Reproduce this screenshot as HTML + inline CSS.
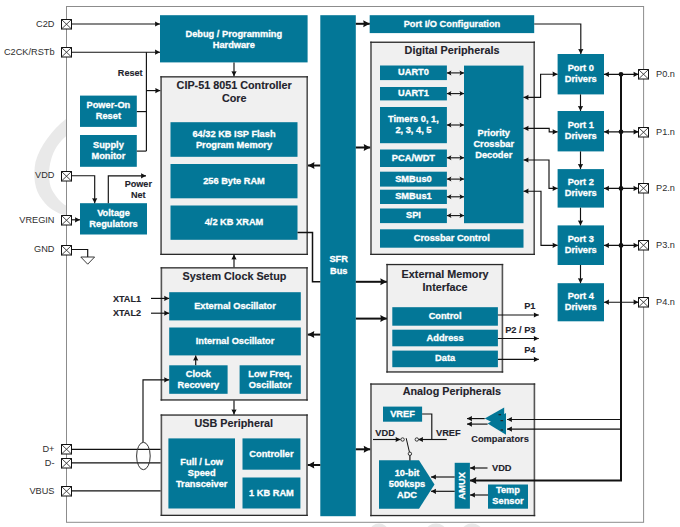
<!DOCTYPE html>
<html><head><meta charset="utf-8"><style>
html,body{margin:0;padding:0;background:#fff;width:680px;height:527px;overflow:hidden}
svg{display:block}
text{font-family:"Liberation Sans", sans-serif}
</style></head><body>
<svg width="680" height="527" viewBox="0 0 680 527">
<rect width="680" height="527" fill="#fff"/>
<path d="M66,119 C52,130 40,146 35.5,162 C33,175 34,190 42.5,200 C48,208 56,213 66,215.5 L66,205.6 C61,203 56,197 52,190 C48,182 48.5,168 51,160 C53.5,150 59,142 66,136.2 Z" fill="#e9e9e9"/>
<ellipse cx="379" cy="531" rx="9" ry="7.5" fill="#e8e8e8"/>
<ellipse cx="436" cy="531" rx="10" ry="7.5" fill="#e8e8e8"/>
<ellipse cx="472" cy="531" rx="10" ry="7.5" fill="#e8e8e8"/>
<rect x="66.5" y="6.5" width="577.1" height="515.8" fill="none" stroke="#8c8c8c" stroke-width="1"/>
<rect x="160.3" y="76.2" width="147.7" height="178.8" fill="#f0f0f0"/>
<rect x="160.3" y="76.2" width="1.6" height="178.8" fill="#555"/>
<rect x="306.4" y="76.2" width="1.6" height="178.8" fill="#555"/>
<rect x="160.3" y="76.2" width="147.7" height="1.3" fill="#2a2a2a"/>
<rect x="160.3" y="253.7" width="147.7" height="1.3" fill="#2a2a2a"/>
<rect x="370.2" y="41.6" width="164.8" height="213.4" fill="#f0f0f0"/>
<rect x="370.2" y="41.6" width="1.6" height="213.4" fill="#555"/>
<rect x="533.4" y="41.6" width="1.6" height="213.4" fill="#555"/>
<rect x="370.2" y="41.6" width="164.8" height="1.3" fill="#2a2a2a"/>
<rect x="370.2" y="253.7" width="164.8" height="1.3" fill="#2a2a2a"/>
<rect x="160.6" y="267.2" width="147.2" height="133.4" fill="#f0f0f0"/>
<rect x="160.6" y="267.2" width="1.6" height="133.4" fill="#555"/>
<rect x="306.2" y="267.2" width="1.6" height="133.4" fill="#555"/>
<rect x="160.6" y="267.2" width="147.2" height="1.3" fill="#2a2a2a"/>
<rect x="160.6" y="399.3" width="147.2" height="1.3" fill="#2a2a2a"/>
<rect x="386.3" y="263.9" width="116.9" height="108.7" fill="#f0f0f0"/>
<rect x="386.3" y="263.9" width="1.6" height="108.7" fill="#555"/>
<rect x="501.6" y="263.9" width="1.6" height="108.7" fill="#555"/>
<rect x="386.3" y="263.9" width="116.9" height="1.3" fill="#2a2a2a"/>
<rect x="386.3" y="371.3" width="116.9" height="1.3" fill="#2a2a2a"/>
<rect x="160.6" y="414.4" width="147.2" height="101.6" fill="#f0f0f0"/>
<rect x="160.6" y="414.4" width="1.6" height="101.6" fill="#555"/>
<rect x="306.2" y="414.4" width="1.6" height="101.6" fill="#555"/>
<rect x="160.6" y="414.4" width="147.2" height="1.3" fill="#2a2a2a"/>
<rect x="160.6" y="514.7" width="147.2" height="1.3" fill="#2a2a2a"/>
<rect x="370.2" y="383.4" width="165" height="132.8" fill="#f0f0f0"/>
<rect x="370.2" y="383.4" width="1.6" height="132.8" fill="#555"/>
<rect x="533.6" y="383.4" width="1.6" height="132.8" fill="#555"/>
<rect x="370.2" y="383.4" width="165" height="1.3" fill="#2a2a2a"/>
<rect x="370.2" y="514.9" width="165" height="1.3" fill="#2a2a2a"/>
<text x="234.2" y="88.9" font-size="10.8" font-weight="bold" fill="#23232c" text-anchor="middle" stroke="#23232c" stroke-width="0.12" >CIP-51 8051 Controller</text>
<text x="234.2" y="101.9" font-size="10.8" font-weight="bold" fill="#23232c" text-anchor="middle" stroke="#23232c" stroke-width="0.12" >Core</text>
<text x="452" y="53.7" font-size="10.8" font-weight="bold" fill="#23232c" text-anchor="middle" stroke="#23232c" stroke-width="0.12" >Digital Peripherals</text>
<text x="234.5" y="280.2" font-size="10.8" font-weight="bold" fill="#23232c" text-anchor="middle" stroke="#23232c" stroke-width="0.12" >System Clock Setup</text>
<text x="445.1" y="278" font-size="10.8" font-weight="bold" fill="#23232c" text-anchor="middle" stroke="#23232c" stroke-width="0.12" >External Memory</text>
<text x="445.1" y="290.5" font-size="10.8" font-weight="bold" fill="#23232c" text-anchor="middle" stroke="#23232c" stroke-width="0.12" >Interface</text>
<text x="233.8" y="426.5" font-size="10.8" font-weight="bold" fill="#23232c" text-anchor="middle" stroke="#23232c" stroke-width="0.12" >USB Peripheral</text>
<text x="451.9" y="395.4" font-size="10.8" font-weight="bold" fill="#23232c" text-anchor="middle" stroke="#23232c" stroke-width="0.12" >Analog Peripherals</text>
<rect x="160" y="15.2" width="147.6" height="47.2" fill="#037797"/>
<text x="233.8" y="36.78" font-size="9.25" font-weight="bold" fill="#fff" text-anchor="middle" stroke="#fff" stroke-width="0.3" >Debug / Programming</text>
<text x="233.8" y="47.78" font-size="9.25" font-weight="bold" fill="#fff" text-anchor="middle" stroke="#fff" stroke-width="0.3" >Hardware</text>
<rect x="320.3" y="15.2" width="35.5" height="501" fill="#037797"/>
<text x="338.7" y="262" font-size="9.25" font-weight="bold" fill="#fff" text-anchor="middle" stroke="#fff" stroke-width="0.3" >SFR</text>
<text x="338.7" y="273.5" font-size="9.25" font-weight="bold" fill="#fff" text-anchor="middle" stroke="#fff" stroke-width="0.3" >Bus</text>
<rect x="369.7" y="15.2" width="164.5" height="17.9" fill="#037797"/>
<text x="451.95" y="26.73" font-size="9.25" font-weight="bold" fill="#fff" text-anchor="middle" stroke="#fff" stroke-width="0.3" >Port I/O Configuration</text>
<rect x="80" y="95.6" width="56.8" height="31.3" fill="#037797"/>
<text x="108.4" y="108.33" font-size="9.25" font-weight="bold" fill="#fff" text-anchor="middle" stroke="#fff" stroke-width="0.3" >Power-On</text>
<text x="108.4" y="119.33" font-size="9.25" font-weight="bold" fill="#fff" text-anchor="middle" stroke="#fff" stroke-width="0.3" >Reset</text>
<rect x="80" y="135" width="56.8" height="31.8" fill="#037797"/>
<text x="108.4" y="147.98" font-size="9.25" font-weight="bold" fill="#fff" text-anchor="middle" stroke="#fff" stroke-width="0.3" >Supply</text>
<text x="108.4" y="158.98" font-size="9.25" font-weight="bold" fill="#fff" text-anchor="middle" stroke="#fff" stroke-width="0.3" >Monitor</text>
<rect x="80" y="203.2" width="67" height="31.3" fill="#037797"/>
<text x="113.5" y="215.93" font-size="9.25" font-weight="bold" fill="#fff" text-anchor="middle" stroke="#fff" stroke-width="0.3" >Voltage</text>
<text x="113.5" y="226.93" font-size="9.25" font-weight="bold" fill="#fff" text-anchor="middle" stroke="#fff" stroke-width="0.3" >Regulators</text>
<rect x="170.5" y="122.2" width="127" height="34.6" fill="#037797"/>
<text x="234" y="136.58" font-size="9.25" font-weight="bold" fill="#fff" text-anchor="middle" stroke="#fff" stroke-width="0.3" >64/32 KB ISP Flash</text>
<text x="234" y="147.58" font-size="9.25" font-weight="bold" fill="#fff" text-anchor="middle" stroke="#fff" stroke-width="0.3" >Program Memory</text>
<rect x="170.5" y="164" width="127" height="34.3" fill="#037797"/>
<text x="234" y="183.73" font-size="9.25" font-weight="bold" fill="#fff" text-anchor="middle" stroke="#fff" stroke-width="0.3" >256 Byte RAM</text>
<rect x="170.5" y="205.5" width="127" height="34.3" fill="#037797"/>
<text x="234" y="225.23" font-size="9.25" font-weight="bold" fill="#fff" text-anchor="middle" stroke="#fff" stroke-width="0.3" >4/2 KB XRAM</text>
<rect x="380" y="65.5" width="66.9" height="14.6" fill="#037797"/>
<text x="413.45" y="75.38" font-size="9.25" font-weight="bold" fill="#fff" text-anchor="middle" stroke="#fff" stroke-width="0.3" >UART0</text>
<rect x="380" y="87" width="66.9" height="13.4" fill="#037797"/>
<text x="413.45" y="96.28" font-size="9.25" font-weight="bold" fill="#fff" text-anchor="middle" stroke="#fff" stroke-width="0.3" >UART1</text>
<rect x="380" y="107" width="66.9" height="36.2" fill="#037797"/>
<text x="413.45" y="122.18" font-size="9.25" font-weight="bold" fill="#fff" text-anchor="middle" stroke="#fff" stroke-width="0.3" >Timers 0, 1,</text>
<text x="413.45" y="133.18" font-size="9.25" font-weight="bold" fill="#fff" text-anchor="middle" stroke="#fff" stroke-width="0.3" >2, 3, 4, 5</text>
<rect x="380" y="149.5" width="66.9" height="17.5" fill="#037797"/>
<text x="413.45" y="160.83" font-size="9.25" font-weight="bold" fill="#fff" text-anchor="middle" stroke="#fff" stroke-width="0.3" >PCA/WDT</text>
<rect x="380" y="171.7" width="66.9" height="14.9" fill="#037797"/>
<text x="413.45" y="181.73" font-size="9.25" font-weight="bold" fill="#fff" text-anchor="middle" stroke="#fff" stroke-width="0.3" >SMBus0</text>
<rect x="380" y="189.7" width="66.9" height="14.3" fill="#037797"/>
<text x="413.45" y="199.43" font-size="9.25" font-weight="bold" fill="#fff" text-anchor="middle" stroke="#fff" stroke-width="0.3" >SMBus1</text>
<rect x="380" y="208.5" width="66.9" height="14.6" fill="#037797"/>
<text x="413.45" y="218.38" font-size="9.25" font-weight="bold" fill="#fff" text-anchor="middle" stroke="#fff" stroke-width="0.3" >SPI</text>
<rect x="464" y="65.6" width="59.5" height="157.6" fill="#037797"/>
<text x="493.75" y="135.68" font-size="9.25" font-weight="bold" fill="#fff" text-anchor="middle" stroke="#fff" stroke-width="0.3" >Priority</text>
<text x="493.75" y="146.98" font-size="9.25" font-weight="bold" fill="#fff" text-anchor="middle" stroke="#fff" stroke-width="0.3" >Crossbar</text>
<text x="493.75" y="158.28" font-size="9.25" font-weight="bold" fill="#fff" text-anchor="middle" stroke="#fff" stroke-width="0.3" >Decoder</text>
<rect x="380" y="229.3" width="143.5" height="18.4" fill="#037797"/>
<text x="451.75" y="241.08" font-size="9.25" font-weight="bold" fill="#fff" text-anchor="middle" stroke="#fff" stroke-width="0.3" >Crossbar Control</text>
<rect x="557.6" y="54" width="46.4" height="40.4" fill="#037797"/>
<text x="580.8" y="71.28" font-size="9.25" font-weight="bold" fill="#fff" text-anchor="middle" stroke="#fff" stroke-width="0.3" >Port 0</text>
<text x="580.8" y="82.28" font-size="9.25" font-weight="bold" fill="#fff" text-anchor="middle" stroke="#fff" stroke-width="0.3" >Drivers</text>
<rect x="557.6" y="111" width="46.4" height="40.4" fill="#037797"/>
<text x="580.8" y="128.28" font-size="9.25" font-weight="bold" fill="#fff" text-anchor="middle" stroke="#fff" stroke-width="0.3" >Port 1</text>
<text x="580.8" y="139.28" font-size="9.25" font-weight="bold" fill="#fff" text-anchor="middle" stroke="#fff" stroke-width="0.3" >Drivers</text>
<rect x="557.6" y="169.1" width="46.4" height="38.5" fill="#037797"/>
<text x="580.8" y="185.43" font-size="9.25" font-weight="bold" fill="#fff" text-anchor="middle" stroke="#fff" stroke-width="0.3" >Port 2</text>
<text x="580.8" y="196.43" font-size="9.25" font-weight="bold" fill="#fff" text-anchor="middle" stroke="#fff" stroke-width="0.3" >Drivers</text>
<rect x="557.6" y="225.4" width="46.4" height="39.6" fill="#037797"/>
<text x="580.8" y="242.28" font-size="9.25" font-weight="bold" fill="#fff" text-anchor="middle" stroke="#fff" stroke-width="0.3" >Port 3</text>
<text x="580.8" y="253.28" font-size="9.25" font-weight="bold" fill="#fff" text-anchor="middle" stroke="#fff" stroke-width="0.3" >Drivers</text>
<rect x="557.6" y="283.2" width="46.4" height="38.1" fill="#037797"/>
<text x="580.8" y="299.33" font-size="9.25" font-weight="bold" fill="#fff" text-anchor="middle" stroke="#fff" stroke-width="0.3" >Port 4</text>
<text x="580.8" y="310.33" font-size="9.25" font-weight="bold" fill="#fff" text-anchor="middle" stroke="#fff" stroke-width="0.3" >Drivers</text>
<rect x="169.2" y="292.2" width="131.6" height="28.2" fill="#037797"/>
<text x="235" y="308.88" font-size="9.25" font-weight="bold" fill="#fff" text-anchor="middle" stroke="#fff" stroke-width="0.3" >External Oscillator</text>
<rect x="169.2" y="327.5" width="131.6" height="27.9" fill="#037797"/>
<text x="235" y="344.03" font-size="9.25" font-weight="bold" fill="#fff" text-anchor="middle" stroke="#fff" stroke-width="0.3" >Internal Oscillator</text>
<rect x="169.2" y="365.3" width="58.4" height="28.5" fill="#037797"/>
<text x="198.4" y="376.63" font-size="9.25" font-weight="bold" fill="#fff" text-anchor="middle" stroke="#fff" stroke-width="0.3" >Clock</text>
<text x="198.4" y="387.63" font-size="9.25" font-weight="bold" fill="#fff" text-anchor="middle" stroke="#fff" stroke-width="0.3" >Recovery</text>
<rect x="239.6" y="365.3" width="61.2" height="28.5" fill="#037797"/>
<text x="270.2" y="376.63" font-size="9.25" font-weight="bold" fill="#fff" text-anchor="middle" stroke="#fff" stroke-width="0.3" >Low Freq.</text>
<text x="270.2" y="387.63" font-size="9.25" font-weight="bold" fill="#fff" text-anchor="middle" stroke="#fff" stroke-width="0.3" >Oscillator</text>
<rect x="392.3" y="307.2" width="105.6" height="18.5" fill="#037797"/>
<text x="445.1" y="319.03" font-size="9.25" font-weight="bold" fill="#fff" text-anchor="middle" stroke="#fff" stroke-width="0.3" >Control</text>
<rect x="392.3" y="329.7" width="105.6" height="16.6" fill="#037797"/>
<text x="445.1" y="340.58" font-size="9.25" font-weight="bold" fill="#fff" text-anchor="middle" stroke="#fff" stroke-width="0.3" >Address</text>
<rect x="392.3" y="350.6" width="105.6" height="16.6" fill="#037797"/>
<text x="445.1" y="361.48" font-size="9.25" font-weight="bold" fill="#fff" text-anchor="middle" stroke="#fff" stroke-width="0.3" >Data</text>
<rect x="168.4" y="438.4" width="66.6" height="70.1" fill="#037797"/>
<text x="201.7" y="465.13" font-size="9.25" font-weight="bold" fill="#fff" text-anchor="middle" stroke="#fff" stroke-width="0.3" >Full / Low</text>
<text x="201.7" y="476.03" font-size="9.25" font-weight="bold" fill="#fff" text-anchor="middle" stroke="#fff" stroke-width="0.3" >Speed</text>
<text x="201.7" y="486.93" font-size="9.25" font-weight="bold" fill="#fff" text-anchor="middle" stroke="#fff" stroke-width="0.3" >Transceiver</text>
<rect x="242.5" y="438.4" width="57.9" height="31.3" fill="#037797"/>
<text x="271.45" y="456.63" font-size="9.25" font-weight="bold" fill="#fff" text-anchor="middle" stroke="#fff" stroke-width="0.3" >Controller</text>
<rect x="242.5" y="477.5" width="57.9" height="31" fill="#037797"/>
<text x="271.45" y="495.58" font-size="9.25" font-weight="bold" fill="#fff" text-anchor="middle" stroke="#fff" stroke-width="0.3" >1 KB RAM</text>
<rect x="383" y="406.6" width="39.1" height="15.1" fill="#037797"/>
<text x="402.55" y="416.73" font-size="9.25" font-weight="bold" fill="#fff" text-anchor="middle" stroke="#fff" stroke-width="0.3" >VREF</text>
<rect x="454.7" y="462.8" width="15.2" height="45.9" fill="#037797"/>
<text x="0" y="0" font-size="9.25" font-weight="bold" fill="#fff" text-anchor="middle" stroke="#fff" stroke-width="0.3" transform="translate(464.6,485.75) rotate(-90)">AMUX</text>
<rect x="488" y="484.5" width="40" height="24.2" fill="#037797"/>
<text x="508" y="492.88" font-size="9.25" font-weight="bold" fill="#fff" text-anchor="middle" stroke="#fff" stroke-width="0.3" >Temp</text>
<text x="508" y="503.88" font-size="9.25" font-weight="bold" fill="#fff" text-anchor="middle" stroke="#fff" stroke-width="0.3" >Sensor</text>
<polygon points="379,460.3 419,460.3 434.5,484.4 419,508.7 379,508.7" fill="#037797"/>
<text x="407" y="475.78" font-size="9.25" font-weight="bold" fill="#fff" text-anchor="middle" stroke="#fff" stroke-width="0.3" >10-bit</text>
<text x="407" y="487.08" font-size="9.25" font-weight="bold" fill="#fff" text-anchor="middle" stroke="#fff" stroke-width="0.3" >500ksps</text>
<text x="407" y="498.38" font-size="9.25" font-weight="bold" fill="#fff" text-anchor="middle" stroke="#fff" stroke-width="0.3" >ADC</text>
<polygon points="504.2,407.6 484.7,418.4 504.2,428.5" fill="#037797"/>
<polygon points="506,413 487.6,423.6 506,434.7" fill="#037797"/>
<rect x="498.5" y="414.1" width="2.6" height="1.2" fill="#222"/>
<rect x="500.5" y="420" width="2.6" height="1.2" fill="#222"/>
<rect x="500.6" y="429.4" width="2.4" height="1.2" fill="#222"/>
<text x="500" y="441.7" font-size="9.25" font-weight="bold" fill="#23232c" text-anchor="middle" stroke="#23232c" stroke-width="0.12" >Comparators</text>
<text x="54.5" y="26.7" font-size="9.2" font-weight="normal" fill="#2e2e2e" text-anchor="end" >C2D</text>
<rect x="61.5" y="19.5" width="10" height="9.5" fill="#fff" stroke="#111" stroke-width="1"/>
<path d="M61.5,19.5L71.5,29M71.5,19.5L61.5,29" stroke="#333" stroke-width="0.9"/>
<text x="54.5" y="54.9" font-size="9.2" font-weight="normal" fill="#2e2e2e" text-anchor="end" >C2CK/RSTb</text>
<rect x="61.5" y="47.5" width="10" height="9.5" fill="#fff" stroke="#111" stroke-width="1"/>
<path d="M61.5,47.5L71.5,57M71.5,47.5L61.5,57" stroke="#333" stroke-width="0.9"/>
<text x="54.5" y="178.4" font-size="9.2" font-weight="normal" fill="#2e2e2e" text-anchor="end" >VDD</text>
<rect x="61.5" y="171.5" width="10" height="9.5" fill="#fff" stroke="#111" stroke-width="1"/>
<path d="M61.5,171.5L71.5,181M71.5,171.5L61.5,181" stroke="#333" stroke-width="0.9"/>
<text x="54.5" y="222.5" font-size="9.2" font-weight="normal" fill="#2e2e2e" text-anchor="end" >VREGIN</text>
<rect x="61.5" y="215.5" width="10" height="9.5" fill="#fff" stroke="#111" stroke-width="1"/>
<path d="M61.5,215.5L71.5,225M71.5,215.5L61.5,225" stroke="#333" stroke-width="0.9"/>
<text x="54.5" y="252.3" font-size="9.2" font-weight="normal" fill="#2e2e2e" text-anchor="end" >GND</text>
<rect x="61.5" y="245.5" width="10" height="9.5" fill="#fff" stroke="#111" stroke-width="1"/>
<path d="M61.5,245.5L71.5,255M71.5,245.5L61.5,255" stroke="#333" stroke-width="0.9"/>
<text x="54.5" y="452" font-size="9.2" font-weight="normal" fill="#2e2e2e" text-anchor="end" >D+</text>
<rect x="61.5" y="444.5" width="10" height="9.5" fill="#fff" stroke="#111" stroke-width="1"/>
<path d="M61.5,444.5L71.5,454M71.5,444.5L61.5,454" stroke="#333" stroke-width="0.9"/>
<text x="54.5" y="465.7" font-size="9.2" font-weight="normal" fill="#2e2e2e" text-anchor="end" >D-</text>
<rect x="61.5" y="458.5" width="10" height="9.5" fill="#fff" stroke="#111" stroke-width="1"/>
<path d="M61.5,458.5L71.5,468M71.5,458.5L61.5,468" stroke="#333" stroke-width="0.9"/>
<text x="54.5" y="493.5" font-size="9.2" font-weight="normal" fill="#2e2e2e" text-anchor="end" >VBUS</text>
<rect x="61.5" y="486.5" width="10" height="9.5" fill="#fff" stroke="#111" stroke-width="1"/>
<path d="M61.5,486.5L71.5,496M71.5,486.5L61.5,496" stroke="#333" stroke-width="0.9"/>
<text x="656" y="77" font-size="9.2" font-weight="normal" fill="#2e2e2e" text-anchor="start" >P0.n</text>
<rect x="638.5" y="69.5" width="10" height="9.5" fill="#fff" stroke="#111" stroke-width="1"/>
<path d="M638.5,69.5L648.5,79M648.5,69.5L638.5,79" stroke="#333" stroke-width="0.9"/>
<text x="656" y="134.5" font-size="9.2" font-weight="normal" fill="#2e2e2e" text-anchor="start" >P1.n</text>
<rect x="638.5" y="127.5" width="10" height="9.5" fill="#fff" stroke="#111" stroke-width="1"/>
<path d="M638.5,127.5L648.5,137M648.5,127.5L638.5,137" stroke="#333" stroke-width="0.9"/>
<text x="656" y="191.1" font-size="9.2" font-weight="normal" fill="#2e2e2e" text-anchor="start" >P2.n</text>
<rect x="638.5" y="183.5" width="10" height="9.5" fill="#fff" stroke="#111" stroke-width="1"/>
<path d="M638.5,183.5L648.5,193M648.5,183.5L638.5,193" stroke="#333" stroke-width="0.9"/>
<text x="656" y="248.1" font-size="9.2" font-weight="normal" fill="#2e2e2e" text-anchor="start" >P3.n</text>
<rect x="638.5" y="240.5" width="10" height="9.5" fill="#fff" stroke="#111" stroke-width="1"/>
<path d="M638.5,240.5L648.5,250M648.5,240.5L638.5,250" stroke="#333" stroke-width="0.9"/>
<text x="656" y="304.9" font-size="9.2" font-weight="normal" fill="#2e2e2e" text-anchor="start" >P4.n</text>
<rect x="638.5" y="297.5" width="10" height="9.5" fill="#fff" stroke="#111" stroke-width="1"/>
<path d="M638.5,297.5L648.5,307M648.5,297.5L638.5,307" stroke="#333" stroke-width="0.9"/>
<text x="130.25" y="75.5" font-size="9.1" font-weight="bold" fill="#23232c" text-anchor="middle" stroke="#23232c" stroke-width="0.12" >Reset</text>
<text x="138.3" y="186.6" font-size="9.1" font-weight="bold" fill="#23232c" text-anchor="middle" stroke="#23232c" stroke-width="0.12" >Power</text>
<text x="138.3" y="197.8" font-size="9.1" font-weight="bold" fill="#23232c" text-anchor="middle" stroke="#23232c" stroke-width="0.12" >Net</text>
<text x="141" y="302.3" font-size="9.1" font-weight="bold" fill="#23232c" text-anchor="end" stroke="#23232c" stroke-width="0.12" >XTAL1</text>
<text x="141" y="316.3" font-size="9.1" font-weight="bold" fill="#23232c" text-anchor="end" stroke="#23232c" stroke-width="0.12" >XTAL2</text>
<text x="535.5" y="309.3" font-size="9.25" font-weight="bold" fill="#23232c" text-anchor="end" stroke="#23232c" stroke-width="0.12" >P1</text>
<text x="535.5" y="332.9" font-size="9.25" font-weight="bold" fill="#23232c" text-anchor="end" stroke="#23232c" stroke-width="0.12" >P2 / P3</text>
<text x="535.5" y="353" font-size="9.25" font-weight="bold" fill="#23232c" text-anchor="end" stroke="#23232c" stroke-width="0.12" >P4</text>
<text x="375.3" y="436" font-size="9.25" font-weight="bold" fill="#23232c" text-anchor="start" stroke="#23232c" stroke-width="0.12" >VDD</text>
<text x="436" y="436" font-size="9.25" font-weight="bold" fill="#23232c" text-anchor="start" stroke="#23232c" stroke-width="0.12" >VREF</text>
<text x="492" y="470.9" font-size="9.25" font-weight="bold" fill="#23232c" text-anchor="start" stroke="#23232c" stroke-width="0.12" >VDD</text>
<polyline points="72,24 160,24" fill="none" stroke="#111" stroke-width="1.15" stroke-linejoin="miter"/>
<polygon points="160,24 155,26.6 155.25,24 155,21.4" fill="#111"/>
<polyline points="72,52.2 160,52.2" fill="none" stroke="#111" stroke-width="1.15" stroke-linejoin="miter"/>
<polygon points="160,52.2 155,54.8 155.25,52.2 155,49.6" fill="#111"/>
<polyline points="146.4,52.2 146.4,151.1" fill="none" stroke="#111" stroke-width="1.15" stroke-linejoin="miter"/>
<polyline points="146.4,90.6 160.3,90.6" fill="none" stroke="#111" stroke-width="1.15" stroke-linejoin="miter"/>
<polygon points="160.3,90.6 155.3,93.2 155.55,90.6 155.3,88" fill="#111"/>
<polyline points="136.8,111.6 146.4,111.6" fill="none" stroke="#111" stroke-width="1.15" stroke-linejoin="miter"/>
<polyline points="136.8,151.1 146.4,151.1" fill="none" stroke="#111" stroke-width="1.15" stroke-linejoin="miter"/>
<polyline points="234,62.4 234,76.2" fill="none" stroke="#111" stroke-width="1.15" stroke-linejoin="miter"/>
<polygon points="234,76.2 231.4,71.2 234,71.45 236.6,71.2" fill="#111"/>
<polyline points="72,175.7 94.7,175.7 94.7,203.2" fill="none" stroke="#111" stroke-width="1.15" stroke-linejoin="miter"/>
<polygon points="94.7,203.2 92.1,198.2 94.7,198.45 97.3,198.2" fill="#111"/>
<polyline points="108.3,203.2 108.3,175.8 146,175.8" fill="none" stroke="#111" stroke-width="1.15" stroke-linejoin="miter"/>
<polygon points="146,175.8 141,178.4 141.25,175.8 141,173.2" fill="#111"/>
<polyline points="72,219.8 80,219.8" fill="none" stroke="#111" stroke-width="1.15" stroke-linejoin="miter"/>
<polygon points="80,219.8 75,222.4 75.25,219.8 75,217.2" fill="#111"/>
<polyline points="72,249.5 87.7,249.5 87.7,257" fill="none" stroke="#111" stroke-width="1.15" stroke-linejoin="miter"/>
<polygon points="80.8,257 94.6,257 87.7,264.2" fill="#fff" stroke="#222" stroke-width="0.9"/>
<polyline points="320.3,165.5 308,165.5" fill="none" stroke="#111" stroke-width="2.0" stroke-linejoin="miter"/>
<polygon points="308,165.5 314.5,162 313.85,165.5 314.5,169" fill="#111"/>
<polyline points="297.5,232.6 312.5,232.6 312.5,281.8 320.3,281.8" fill="none" stroke="#111" stroke-width="1.5" stroke-linejoin="miter"/>
<polyline points="355.8,281.8 386.8,281.8" fill="none" stroke="#111" stroke-width="2.0" stroke-linejoin="miter"/>
<polygon points="386.8,281.8 380.3,285.3 380.95,281.8 380.3,278.3" fill="#111"/>
<polyline points="355.8,318.6 386.8,318.6" fill="none" stroke="#111" stroke-width="2.0" stroke-linejoin="miter"/>
<polygon points="386.8,318.6 380.3,322.1 380.95,318.6 380.3,315.1" fill="#111"/>
<polyline points="320.3,334.6 307.8,334.6" fill="none" stroke="#111" stroke-width="2.0" stroke-linejoin="miter"/>
<polygon points="307.8,334.6 314.3,331.1 313.65,334.6 314.3,338.1" fill="#111"/>
<polyline points="234,267.2 234,254.6" fill="none" stroke="#111" stroke-width="1.15" stroke-linejoin="miter"/>
<polygon points="234,254.6 236.6,259.6 234,259.35 231.4,259.6" fill="#111"/>
<polyline points="234,400.6 234,414.4" fill="none" stroke="#111" stroke-width="1.15" stroke-linejoin="miter"/>
<polygon points="234,414.4 231.4,409.4 234,409.65 236.6,409.4" fill="#111"/>
<polyline points="151,298.4 169.2,298.4" fill="none" stroke="#111" stroke-width="1.15" stroke-linejoin="miter"/>
<polygon points="169.2,298.4 164.2,301 164.45,298.4 164.2,295.8" fill="#111"/>
<polyline points="151,313.2 169.2,313.2" fill="none" stroke="#111" stroke-width="1.15" stroke-linejoin="miter"/>
<polygon points="169.2,313.2 164.2,315.8 164.45,313.2 164.2,310.6" fill="#111"/>
<polyline points="195.7,365.3 195.7,355.4" fill="none" stroke="#111" stroke-width="1.15" stroke-linejoin="miter"/>
<polygon points="195.7,355.4 198.3,360.4 195.7,360.15 193.1,360.4" fill="#111"/>
<polyline points="143,442.2 143,379.8 169.2,379.8" fill="none" stroke="#111" stroke-width="1.15" stroke-linejoin="miter"/>
<polygon points="169.2,379.8 164.2,382.4 164.45,379.8 164.2,377.2" fill="#111"/>
<polyline points="72,449.4 160.6,449.4" fill="none" stroke="#111" stroke-width="1.15" stroke-linejoin="miter"/>
<polyline points="72,462.9 160.6,462.9" fill="none" stroke="#111" stroke-width="1.15" stroke-linejoin="miter"/>
<polyline points="72,490.8 160.6,490.8" fill="none" stroke="#111" stroke-width="1.15" stroke-linejoin="miter"/>
<ellipse cx="143.4" cy="456" rx="6.8" ry="13.7" fill="none" stroke="#333" stroke-width="1"/>
<polyline points="320.3,465 307.8,465" fill="none" stroke="#111" stroke-width="2.0" stroke-linejoin="miter"/>
<polygon points="307.8,465 314.3,461.5 313.65,465 314.3,468.5" fill="#111"/>
<polyline points="355.8,147.5 370.2,147.5" fill="none" stroke="#111" stroke-width="2.0" stroke-linejoin="miter"/>
<polygon points="370.2,147.5 363.7,151 364.35,147.5 363.7,144" fill="#111"/>
<polyline points="355.8,23.8 369.7,23.8" fill="none" stroke="#111" stroke-width="2.0" stroke-linejoin="miter"/>
<polygon points="369.7,23.8 363.2,27.3 363.85,23.8 363.2,20.3" fill="#111"/>
<polyline points="355.8,449.3 370.2,449.3" fill="none" stroke="#111" stroke-width="2.0" stroke-linejoin="miter"/>
<polygon points="370.2,449.3 363.7,452.8 364.35,449.3 363.7,445.8" fill="#111"/>
<polyline points="534.2,24 580.8,24 580.8,54" fill="none" stroke="#111" stroke-width="1.15" stroke-linejoin="miter"/>
<polygon points="580.8,54 578.2,49 580.8,49.25 583.4,49" fill="#111"/>
<polyline points="580.5,94.4 580.5,111" fill="none" stroke="#111" stroke-width="1.15" stroke-linejoin="miter"/>
<polygon points="580.5,111 577.9,106 580.5,106.25 583.1,106" fill="#111"/>
<polyline points="580.5,151.4 580.5,169.1" fill="none" stroke="#111" stroke-width="1.15" stroke-linejoin="miter"/>
<polygon points="580.5,169.1 577.9,164.1 580.5,164.35 583.1,164.1" fill="#111"/>
<polyline points="580.5,207.6 580.5,225.4" fill="none" stroke="#111" stroke-width="1.15" stroke-linejoin="miter"/>
<polygon points="580.5,225.4 577.9,220.4 580.5,220.65 583.1,220.4" fill="#111"/>
<polyline points="580.5,265 580.5,283.2" fill="none" stroke="#111" stroke-width="1.15" stroke-linejoin="miter"/>
<polygon points="580.5,283.2 577.9,278.2 580.5,278.45 583.1,278.2" fill="#111"/>
<polyline points="446.9,72.9 464,72.9" fill="none" stroke="#111" stroke-width="1.1" stroke-linejoin="miter"/>
<polygon points="464,72.9 459.5,75.4 460.4,72.9 459.5,70.4" fill="#111"/>
<polygon points="446.9,72.9 451.4,70.4 450.5,72.9 451.4,75.4" fill="#111"/>
<polyline points="446.9,93.6 464,93.6" fill="none" stroke="#111" stroke-width="1.1" stroke-linejoin="miter"/>
<polygon points="464,93.6 459.5,96.1 460.4,93.6 459.5,91.1" fill="#111"/>
<polygon points="446.9,93.6 451.4,91.1 450.5,93.6 451.4,96.1" fill="#111"/>
<polyline points="446.9,125 464,125" fill="none" stroke="#111" stroke-width="1.1" stroke-linejoin="miter"/>
<polygon points="464,125 459.5,127.5 460.4,125 459.5,122.5" fill="#111"/>
<polygon points="446.9,125 451.4,122.5 450.5,125 451.4,127.5" fill="#111"/>
<polyline points="446.9,157.8 464,157.8" fill="none" stroke="#111" stroke-width="1.1" stroke-linejoin="miter"/>
<polygon points="464,157.8 459.5,160.3 460.4,157.8 459.5,155.3" fill="#111"/>
<polygon points="446.9,157.8 451.4,155.3 450.5,157.8 451.4,160.3" fill="#111"/>
<polyline points="446.9,179.1 464,179.1" fill="none" stroke="#111" stroke-width="1.1" stroke-linejoin="miter"/>
<polygon points="464,179.1 459.5,181.6 460.4,179.1 459.5,176.6" fill="#111"/>
<polygon points="446.9,179.1 451.4,176.6 450.5,179.1 451.4,181.6" fill="#111"/>
<polyline points="446.9,196.8 464,196.8" fill="none" stroke="#111" stroke-width="1.1" stroke-linejoin="miter"/>
<polygon points="464,196.8 459.5,199.3 460.4,196.8 459.5,194.3" fill="#111"/>
<polygon points="446.9,196.8 451.4,194.3 450.5,196.8 451.4,199.3" fill="#111"/>
<polyline points="446.9,215.6 464,215.6" fill="none" stroke="#111" stroke-width="1.1" stroke-linejoin="miter"/>
<polygon points="464,215.6 459.5,218.1 460.4,215.6 459.5,213.1" fill="#111"/>
<polygon points="446.9,215.6 451.4,213.1 450.5,215.6 451.4,218.1" fill="#111"/>
<polyline points="523.5,97.4 540.6,97.4 540.6,74.2 557.6,74.2" fill="none" stroke="#111" stroke-width="1.15" stroke-linejoin="miter"/>
<polygon points="557.6,74.2 552.6,76.8 552.85,74.2 552.6,71.6" fill="#111"/>
<polygon points="523.5,97.4 528.5,94.8 528.25,97.4 528.5,100" fill="#111"/>
<polyline points="523.5,128.4 549.2,128.4 549.2,131.8 557.6,131.8" fill="none" stroke="#111" stroke-width="1.15" stroke-linejoin="miter"/>
<polygon points="557.6,131.8 552.6,134.4 552.85,131.8 552.6,129.2" fill="#111"/>
<polygon points="523.5,128.4 528.5,125.8 528.25,128.4 528.5,131" fill="#111"/>
<polyline points="523.5,160 549,160 549,188.4 557.6,188.4" fill="none" stroke="#111" stroke-width="1.15" stroke-linejoin="miter"/>
<polygon points="557.6,188.4 552.6,191 552.85,188.4 552.6,185.8" fill="#111"/>
<polygon points="523.5,160 528.5,157.4 528.25,160 528.5,162.6" fill="#111"/>
<polyline points="523.5,191.2 541,191.2 541,245.3 557.6,245.3" fill="none" stroke="#111" stroke-width="1.15" stroke-linejoin="miter"/>
<polygon points="557.6,245.3 552.6,247.9 552.85,245.3 552.6,242.7" fill="#111"/>
<polygon points="523.5,191.2 528.5,188.6 528.25,191.2 528.5,193.8" fill="#111"/>
<polyline points="604,74.3 638.5,74.3" fill="none" stroke="#111" stroke-width="1.15" stroke-linejoin="miter"/>
<polygon points="638.5,74.3 633.5,76.9 633.75,74.3 633.5,71.7" fill="#111"/>
<polygon points="604,74.3 609,71.7 608.75,74.3 609,76.9" fill="#111"/>
<polyline points="604,131.8 638.5,131.8" fill="none" stroke="#111" stroke-width="1.15" stroke-linejoin="miter"/>
<polygon points="638.5,131.8 633.5,134.4 633.75,131.8 633.5,129.2" fill="#111"/>
<polygon points="604,131.8 609,129.2 608.75,131.8 609,134.4" fill="#111"/>
<polyline points="604,188.4 638.5,188.4" fill="none" stroke="#111" stroke-width="1.15" stroke-linejoin="miter"/>
<polygon points="638.5,188.4 633.5,191 633.75,188.4 633.5,185.8" fill="#111"/>
<polygon points="604,188.4 609,185.8 608.75,188.4 609,191" fill="#111"/>
<polyline points="604,245.4 638.5,245.4" fill="none" stroke="#111" stroke-width="1.15" stroke-linejoin="miter"/>
<polygon points="638.5,245.4 633.5,248 633.75,245.4 633.5,242.8" fill="#111"/>
<polygon points="604,245.4 609,242.8 608.75,245.4 609,248" fill="#111"/>
<polyline points="604,302.2 638.5,302.2" fill="none" stroke="#111" stroke-width="1.15" stroke-linejoin="miter"/>
<polygon points="638.5,302.2 633.5,304.8 633.75,302.2 633.5,299.6" fill="#111"/>
<polygon points="604,302.2 609,299.6 608.75,302.2 609,304.8" fill="#111"/>
<polyline points="621,74.3 621,480.4 470,480.4" fill="none" stroke="#111" stroke-width="2" stroke-linejoin="miter"/>
<polygon points="469.9,480.4 476.4,476.9 475.75,480.4 476.4,483.9" fill="#111"/>
<circle cx="621" cy="74.3" r="2.4" fill="#111"/>
<circle cx="621" cy="131.8" r="2.4" fill="#111"/>
<circle cx="621" cy="188.4" r="2.4" fill="#111"/>
<circle cx="621" cy="245.4" r="2.4" fill="#111"/>
<polyline points="621,419.5 507,419.5" fill="none" stroke="#111" stroke-width="1.15" stroke-linejoin="miter"/>
<polygon points="507,419.5 512,416.9 511.75,419.5 512,422.1" fill="#111"/>
<polyline points="621,429.1 507,429.1" fill="none" stroke="#111" stroke-width="1.15" stroke-linejoin="miter"/>
<polygon points="507,429.1 512,426.5 511.75,429.1 512,431.7" fill="#111"/>
<polyline points="484.7,418.6 467,418.6" fill="none" stroke="#111" stroke-width="1.15" stroke-linejoin="miter"/>
<polygon points="467,418.6 472,416 471.75,418.6 472,421.2" fill="#111"/>
<polyline points="487.6,424.1 467,424.1" fill="none" stroke="#111" stroke-width="1.15" stroke-linejoin="miter"/>
<polygon points="467,424.1 472,421.5 471.75,424.1 472,426.7" fill="#111"/>
<polyline points="497.9,315 538.8,315" fill="none" stroke="#111" stroke-width="1.15" stroke-linejoin="miter"/>
<polygon points="538.8,315 533.8,317.6 534.05,315 533.8,312.4" fill="#111"/>
<polyline points="497.9,338.5 538.8,338.5" fill="none" stroke="#111" stroke-width="1.15" stroke-linejoin="miter"/>
<polygon points="538.8,338.5 533.8,341.1 534.05,338.5 533.8,335.9" fill="#111"/>
<polyline points="497.9,359.4 538.8,359.4" fill="none" stroke="#111" stroke-width="1.15" stroke-linejoin="miter"/>
<polygon points="538.8,359.4 533.8,362 534.05,359.4 533.8,356.8" fill="#111"/>
<polyline points="422.1,414 431.8,414 431.8,439.5" fill="none" stroke="#111" stroke-width="1.15" stroke-linejoin="miter"/>
<polyline points="446.8,439.5 418,439.5" fill="none" stroke="#111" stroke-width="1.15" stroke-linejoin="miter"/>
<polygon points="418,439.5 423,436.9 422.75,439.5 423,442.1" fill="#111"/>
<polyline points="373,439.5 400.6,439.5" fill="none" stroke="#111" stroke-width="1.15" stroke-linejoin="miter"/>
<polygon points="400.6,439.5 395.6,442.1 395.85,439.5 395.6,436.9" fill="#111"/>
<circle cx="402.6" cy="439.5" r="1.7" fill="#f0f0f0" stroke="#222" stroke-width="0.9"/>
<circle cx="416.8" cy="439.5" r="1.7" fill="#f0f0f0" stroke="#222" stroke-width="0.9"/>
<circle cx="409.9" cy="453.8" r="1.7" fill="#f0f0f0" stroke="#222" stroke-width="0.9"/>
<polyline points="406.2,438.2 409.4,452" fill="none" stroke="#111" stroke-width="1" stroke-linejoin="miter"/>
<polyline points="409.9,455.5 409.9,460.5" fill="none" stroke="#111" stroke-width="1.2" stroke-linejoin="miter"/>
<polyline points="454.7,477 431,477" fill="none" stroke="#111" stroke-width="1.15" stroke-linejoin="miter"/>
<polygon points="431,477 436,474.4 435.75,477 436,479.6" fill="#111"/>
<polyline points="454.7,491.3 431,491.3" fill="none" stroke="#111" stroke-width="1.15" stroke-linejoin="miter"/>
<polygon points="431,491.3 436,488.7 435.75,491.3 436,493.9" fill="#111"/>
<polyline points="487.5,468 470,468" fill="none" stroke="#111" stroke-width="1.15" stroke-linejoin="miter"/>
<polygon points="470,468 475,465.4 474.75,468 475,470.6" fill="#111"/>
<polyline points="488,495 470,495" fill="none" stroke="#111" stroke-width="1.15" stroke-linejoin="miter"/>
<polygon points="470,495 475,492.4 474.75,495 475,497.6" fill="#111"/>
</svg></body></html>
